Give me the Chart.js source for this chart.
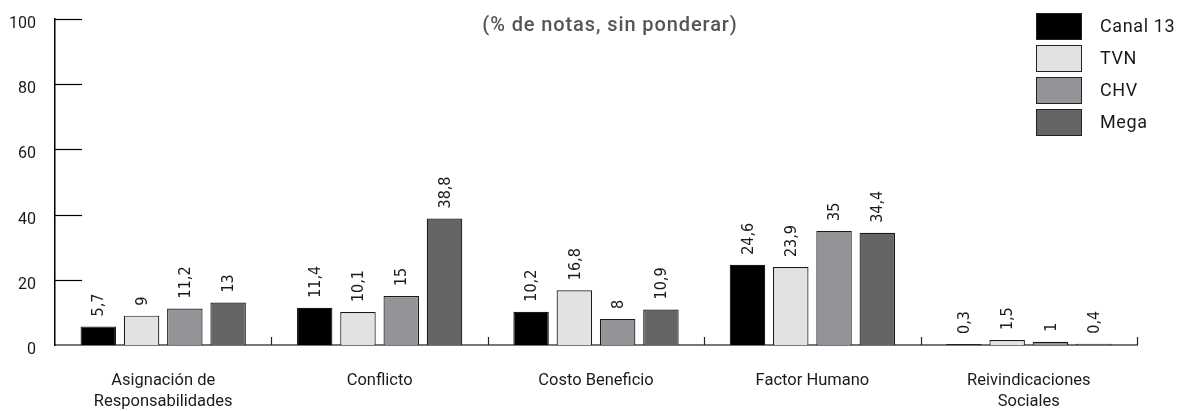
<!DOCTYPE html>
<html><head><meta charset="utf-8">
<script src="https://cdn.jsdelivr.net/npm/chart.js@4.4.1/dist/chart.umd.min.js"></script>
<style>html,body{margin:0;padding:0;background:#fff}#wrap{width:1182px;height:411px}</style>
</head><body><div id="wrap"><canvas id="c" width="1182" height="411"></canvas></div>
<script>
const categories = [["Asignación de","Responsabilidades"],"Conflicto","Costo Beneficio","Factor Humano",["Reivindicaciones","Sociales"]];
const canal13 = [5.7, 11.4, 10.2, 24.6, 0.3];
const tvn = [9, 10.1, 16.8, 23.9, 1.5];
const chv = [11.2, 15, 8, 35, 1];
const mega = [13, 38.8, 10.9, 34.4, 0.4];
const seriesNames = ["Canal 13","TVN","CHV","Mega"];
const yTicks = [0,20,40,60,80,100];
const titleText = "(% de notas, sin ponderar)";

const colors = ["#000000","#e1e2e4","#939497","#646567"];
const FONT = "Roboto, 'DejaVu Sans', sans-serif";
const NARROW = "'Liberation Sans Narrow', 'DejaVu Sans Condensed', Roboto, sans-serif";

const decor = {
  id:'decor',
  afterDatasetsDraw(chart){
    const ctx = chart.ctx, xs = chart.scales.x, ys = chart.scales.y, a = chart.chartArea;
    ctx.save();
    ctx.strokeStyle = '#000'; ctx.lineWidth = 1.2;
    yTicks.forEach(v=>{ if(v===0) return; const y = Math.round(ys.getPixelForValue(v))+0.5;
      ctx.beginPath(); ctx.moveTo(a.left, y); ctx.lineTo(a.left+27, y); ctx.stroke(); });
    const n = categories.length;
    ctx.strokeStyle = '#222'; ctx.lineWidth = 1.2;
    for(let i=1;i<=n;i++){ const x = Math.round(xs.getPixelForValue(i-0.5))+0.5;
      ctx.beginPath(); ctx.moveTo(x, a.bottom); ctx.lineTo(x, a.bottom-8); ctx.stroke(); }
    ctx.fillStyle = '#1a1a1a'; ctx.font = "16px " + NARROW;
    ctx.textAlign = 'left'; ctx.textBaseline = 'middle';
    chart.data.datasets.forEach((ds, di)=>{
      const meta = chart.getDatasetMeta(di);
      meta.data.forEach((bar, i)=>{
        const txt = String(ds.data[i]).replace('.', ',');
        ctx.save(); ctx.translate(bar.x+1, bar.y - 10); ctx.rotate(-Math.PI/2);
        ctx.fillText(txt, 0, 0); ctx.restore();
      });
    });
    ctx.fillStyle = '#555'; ctx.font = "500 20px " + FONT; ctx.textAlign='center';
    try { ctx.letterSpacing = '0.9px'; } catch(e) {}
    ctx.fillText(titleText, 610, 26);
    ctx.textAlign = 'left'; ctx.font = "18px " + FONT;
    try { ctx.letterSpacing = '0.6px'; } catch(e) {}
    seriesNames.forEach((nm, i)=>{
      const y = 13 + i*32;
      ctx.fillStyle = colors[i]; ctx.fillRect(1036, y, 46, 27);
      ctx.strokeStyle = '#222'; ctx.lineWidth = 1; ctx.strokeRect(1036.5, y+0.5, 45, 26);
      ctx.fillStyle = '#1a1a1a'; ctx.fillText(nm, 1100, y+14);
    });
    ctx.restore();
  }
};

new Chart(document.getElementById('c'), {
  type:'bar',
  data:{ labels: categories,
    datasets: seriesNames.map((nm, i)=>({ label:nm, data:[canal13,tvn,chv,mega][i],
      backgroundColor: colors[i], borderColor:'#1a1a1a', borderWidth:1.2,
      categoryPercentage:0.8, barPercentage:0.82 })) },
  options:{
    responsive:false, animation:false, devicePixelRatio:1,
    layout:{ padding:{ top:19, right:45, left:0, bottom:0 } },
    plugins:{ legend:{display:false}, tooltip:{enabled:false}, title:{display:false} },
    scales:{
      x:{ grid:{ display:false, drawTicks:false },
          border:{ display:true, color:'#777', width:2 },
          ticks:{ color:'#1a1a1a', font:{ family:FONT, size:16.5, lineHeight:1.25 }, padding:26, maxRotation:0, autoSkip:false },
          afterFit(s){ s.height = 66; s.paddingLeft = 0; s.paddingRight = 0; } },
      y:{ min:0, max:100, grid:{ display:false, drawTicks:false },
          border:{ display:true, color:'#000', width:1.5 },
          afterBuildTicks(s){ s.ticks = yTicks.map(v=>({value:v})); },
          ticks:{ color:'#1a1a1a', font:{ family:FONT, size:16 }, padding:19, labelOffset:5 },
          afterFit(s){ s.width = 55; s.paddingTop = 0; s.paddingBottom = 0; } }
    }
  },
  plugins:[decor]
});
</script></body></html>
